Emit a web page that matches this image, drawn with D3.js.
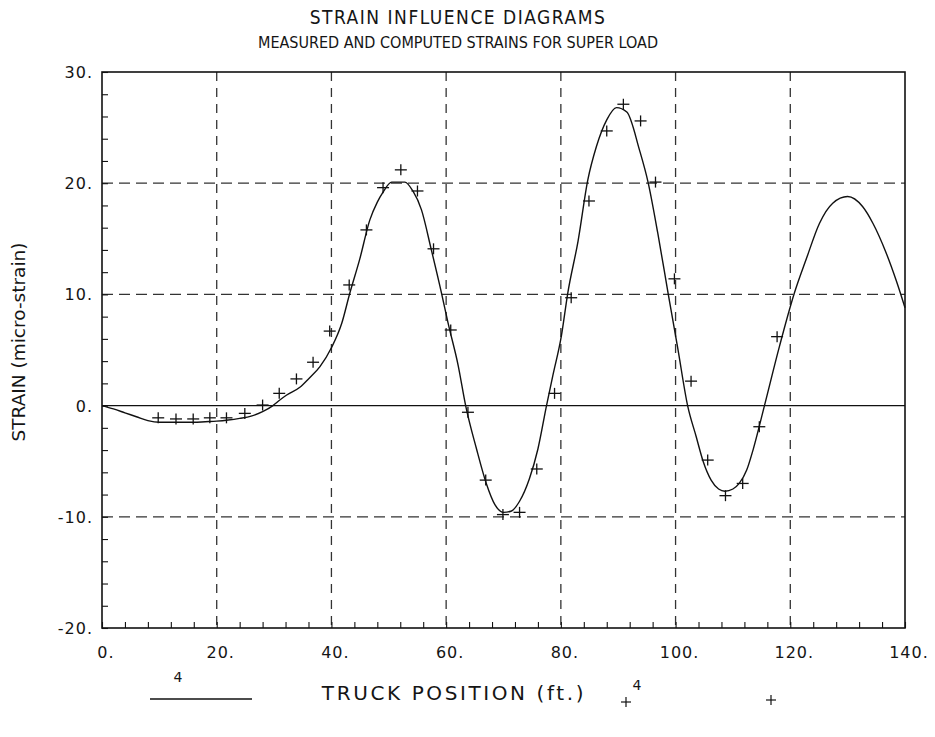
<!DOCTYPE html>
<html><head><meta charset="utf-8">
<script src="https://cdn.jsdelivr.net/npm/d3@7"></script>
<style>
body{margin:0;background:#fff;}
svg text{font-family:"DejaVu Sans","Liberation Sans",sans-serif;fill:#151515;}
svg text.cond{font-family:"DejaVu Sans Condensed","DejaVu Sans",sans-serif;}
</style></head><body>
<svg id="c" width="935" height="737"></svg>
<script>
// ---- data ----
const titleLines = ["STRAIN INFLUENCE DIAGRAMS", "MEASURED AND COMPUTED STRAINS FOR SUPER LOAD"];
const xLabel = "TRUCK POSITION (ft.)";
const yLabel = "STRAIN (micro-strain)";
const xTicks = [0, 20, 40, 60, 80, 100, 120, 140];
const xTickLabels = ["0.", "20.", "40.", "60.", "80.", "100.", "120.", "140."];
const yTicks = [30, 20, 10, 0, -10, -20];
const yTickLabels = ["30.", "20.", "10.", "0.", "-10.", "-20."];
const xGrid = [20, 40, 60, 80, 100, 120];
const yGrid = [20, 10, -10];

// computed strain (curve)
const computedX = [0,2,4,6,8,10,12,14,16,18,20,22,24,26,28,29.8,31,32.2,34.5,36,38,40,41.8,43.2,44.9,46.7,48,49,50.5,52.8,54.2,55.7,57.4,59.2,60.3,62.1,63.4,65.3,67,68.5,70,71.3,72.8,74.5,76,77.5,78.6,80.1,81.2,83,84.7,86.2,88,89.7,91.5,93.7,95.2,96.9,98.7,100.4,102.1,103.6,104.8,106.2,107.5,108.6,110,111.1,112.4,113.5,115.5,118.1,120.7,122.8,125.1,127.4,130,132.6,134.4,136.7,138.5,140];
const computedY = [0,-0.3,-0.65,-1.0,-1.35,-1.5,-1.5,-1.5,-1.5,-1.45,-1.4,-1.3,-1.15,-0.95,-0.55,0,0.5,0.95,1.65,2.4,3.5,5.2,7.4,10.1,13.1,16.7,18.3,19.2,20.1,20.1,19.3,17.6,14.05,10.1,7.5,3.6,0,-3.9,-7.0,-8.9,-9.6,-9.5,-8.6,-6.6,-3.9,0,2.7,6.3,10.1,14.8,20.3,23.3,25.7,26.8,26.4,23.0,20.1,15.5,10.1,5.1,0,-2.8,-5.0,-6.7,-7.5,-7.7,-7.5,-7.0,-5.8,-4.0,0,5.3,10.1,13.2,16.4,18.2,18.8,17.9,16.4,13.75,11.2,8.8];

// measured strain (points)
const measuredX = [9.8,12.9,15.9,18.8,21.7,24.9,28.0,30.9,33.9,36.8,39.7,43.1,46.1,49.0,52.1,55.0,57.8,60.8,63.8,66.9,69.9,72.8,75.8,78.9,81.8,84.9,88.0,90.9,93.9,96.5,99.8,102.7,105.6,108.7,111.7,114.6,117.7];
const measuredY = [-1.1,-1.2,-1.2,-1.1,-1.1,-0.7,0.05,1.1,2.4,3.9,6.7,10.85,15.8,19.6,21.2,19.3,14.1,6.8,-0.6,-6.7,-9.8,-9.6,-5.7,1.1,9.7,18.4,24.7,27.1,25.6,20.1,11.4,2.2,-4.9,-8.1,-7.0,-1.9,6.2];

// ---- layout ----
const svg = d3.select("#c");
const L = 102, R = 905, T = 72, B = 628;
const x = d3.scaleLinear().domain([0, 140]).range([L, R]);
const y = d3.scaleLinear().domain([-20, 30]).range([B, T]);
const ink = "#111";

// grid
svg.append("g").selectAll("line").data(xGrid).join("line")
  .attr("x1", d => x(d)).attr("x2", d => x(d)).attr("y1", T).attr("y2", B)
  .attr("stroke", "#333").attr("stroke-width", 1.3).attr("stroke-dasharray", "9,7");
svg.append("g").selectAll("line").data(yGrid).join("line")
  .attr("y1", d => y(d)).attr("y2", d => y(d)).attr("x1", L).attr("x2", R)
  .attr("stroke", "#333").attr("stroke-width", 1.3).attr("stroke-dasharray", "11,6");
// zero line
svg.append("line").attr("x1", L).attr("x2", R).attr("y1", y(0)).attr("y2", y(0))
  .attr("stroke", ink).attr("stroke-width", 1.4);

// axes via d3 axis (ticks inward)
const xAxisB = d3.axisBottom(x).tickValues(d3.range(0, 141, 4)).tickSize(-6).tickFormat("");
svg.append("g").attr("transform", `translate(0,${B})`).call(xAxisB)
  .call(g => g.select(".domain").remove())
  .call(g => g.selectAll("line").attr("stroke", ink).attr("stroke-width", 1.1));
const yAxisL = d3.axisLeft(y).tickValues(d3.range(-20, 31, 2)).tickSize(-6).tickFormat("");
svg.append("g").attr("transform", `translate(${L},0)`).call(yAxisL)
  .call(g => g.select(".domain").remove())
  .call(g => g.selectAll("line").attr("stroke", ink).attr("stroke-width", 1.1));

// frame
svg.append("rect").attr("x", L).attr("y", T).attr("width", R - L).attr("height", B - T)
  .attr("fill", "none").attr("stroke", ink).attr("stroke-width", 1.6);

// tick labels
svg.append("g").selectAll("text").data(xTicks).join("text")
  .attr("x", d => x(d) + 4).attr("y", B + 30).attr("text-anchor", "middle")
  .attr("font-size", 16).attr("letter-spacing", 1).text((d, i) => xTickLabels[i]);
svg.append("g").selectAll("text").data(yTicks).join("text")
  .attr("x", L - 9).attr("y", d => y(d) + 6).attr("text-anchor", "end")
  .attr("font-size", 16).attr("letter-spacing", 1).text((d, i) => yTickLabels[i]);

// curve
const pts = computedX.map((v, i) => [v, computedY[i]]);
svg.append("path").datum(pts)
  .attr("d", d3.line().x(d => x(d[0])).y(d => y(d[1])).curve(d3.curveMonotoneX))
  .attr("fill", "none").attr("stroke", ink).attr("stroke-width", 1.4);

// measured crosses
const mg = svg.append("g");
measuredX.forEach((v, i) => {
  const cx = x(v), cy = y(measuredY[i]);
  mg.append("line").attr("x1", cx - 6).attr("x2", cx + 6).attr("y1", cy).attr("y2", cy)
    .attr("stroke", ink).attr("stroke-width", 1.3);
  mg.append("line").attr("x1", cx).attr("x2", cx).attr("y1", cy - 5.5).attr("y2", cy + 5.5)
    .attr("stroke", ink).attr("stroke-width", 1.3);
});

// titles
svg.append("text").attr("class", "cond").attr("x", 458).attr("y", 24).attr("text-anchor", "middle")
  .attr("font-size", 19).attr("letter-spacing", 1.5).text(titleLines[0]);
svg.append("text").attr("class", "cond").attr("x", 458).attr("y", 48).attr("text-anchor", "middle")
  .attr("font-size", 16).text(titleLines[1]);
svg.append("text").attr("x", 454).attr("y", 700).attr("text-anchor", "middle")
  .attr("font-size", 20).attr("letter-spacing", 2.6).text(xLabel);
svg.append("text").attr("transform", `translate(25,342) rotate(-90)`)
  .attr("text-anchor", "middle").attr("font-size", 18.5).attr("letter-spacing", 0).text(yLabel);

// legend
svg.append("text").attr("x", 178).attr("y", 682).attr("text-anchor", "middle").attr("font-size", 14).text("4");
svg.append("line").attr("x1", 150).attr("x2", 252).attr("y1", 699).attr("y2", 699)
  .attr("stroke", ink).attr("stroke-width", 1.3);
[[626, 702], [771, 700]].forEach(p => {
  svg.append("line").attr("x1", p[0] - 5).attr("x2", p[0] + 5).attr("y1", p[1]).attr("y2", p[1]).attr("stroke", ink).attr("stroke-width", 1.2);
  svg.append("line").attr("x1", p[0]).attr("x2", p[0]).attr("y1", p[1] - 5).attr("y2", p[1] + 5).attr("stroke", ink).attr("stroke-width", 1.2);
});
svg.append("text").attr("x", 637).attr("y", 690).attr("text-anchor", "middle").attr("font-size", 14).text("4");
</script>
</body></html>
